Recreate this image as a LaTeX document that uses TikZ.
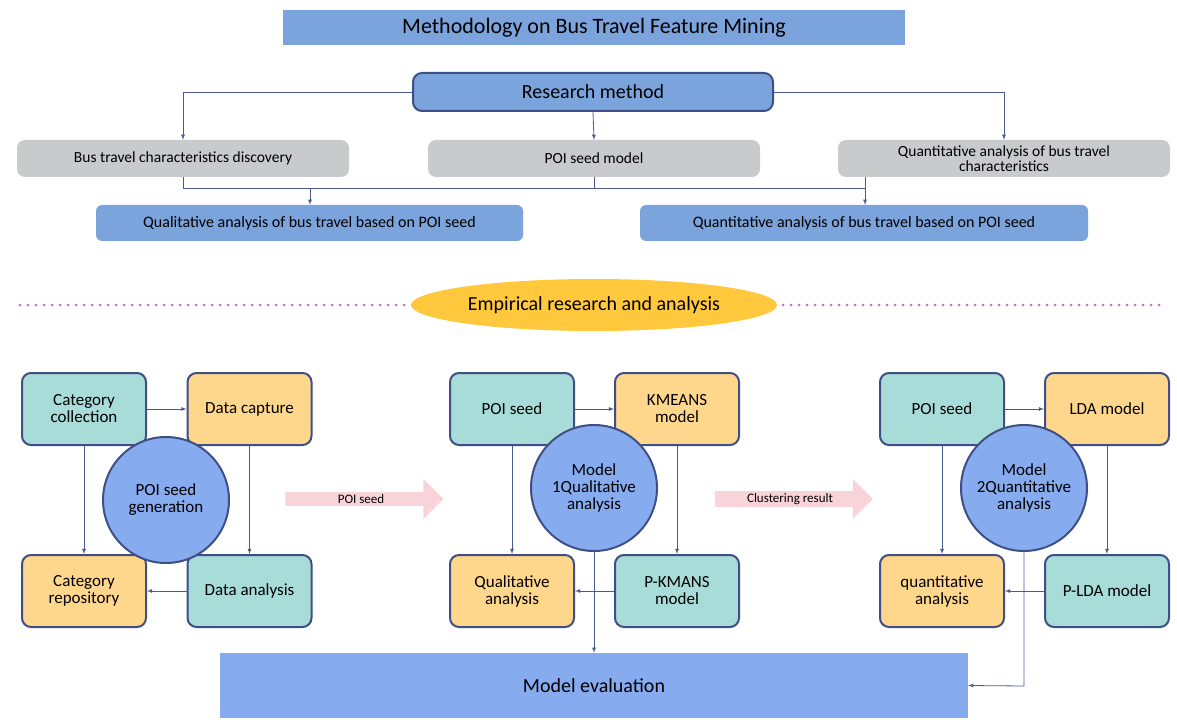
\documentclass[tikz,border=0pt]{standalone}
\usepackage{fontspec}
\setmainfont{Carlito}
\usetikzlibrary{shapes.arrows,shapes.geometric}
\definecolor{tb}{HTML}{7BA3DC}
\definecolor{gr}{HTML}{C9CACC}
\definecolor{bd}{HTML}{3F4F86}
\definecolor{tl}{HTML}{A8DCD9}
\definecolor{og}{HTML}{FFD78C}
\definecolor{cb}{HTML}{86ABEF}
\definecolor{gd}{HTML}{FFC83D}
\definecolor{pk}{HTML}{F9D3DA}
\definecolor{dt}{HTML}{C070C0}
\definecolor{ln}{HTML}{4A5A90}
\begin{document}
\begin{tikzpicture}[x=1pt,y=-1pt,
 fs/.style={font=\fontsize{#1}{#1}\selectfont},
 gbox/.style={fill=gr,rounded corners=8pt,minimum width=332pt,minimum height=37pt,inner sep=2pt,align=center,fs=15.5},
 bbox/.style={fill=tb,rounded corners=6pt,minimum height=36pt,inner sep=2pt,fs=16},
 sq/.style={draw=bd,line width=2pt,rounded corners=9pt,minimum width=124pt,minimum height=72pt,align=center,fs=17,inner sep=2pt},
 circ/.style={circle,draw=bd,line width=2pt,fill=cb,minimum size=126pt,align=center,fs=17,inner sep=0pt},
 ar/.style={draw=ln,-latex,line width=0.8pt},
 pa/.style={single arrow,fill=pk,single arrow head extend=9pt,minimum height=158pt,minimum width=40pt,inner sep=0pt,fs=13}]
\useasboundingbox (0,0) rectangle (1177,727);
\node[fill=tb,minimum width=622pt,minimum height=35pt,fs=22] (title) at (594,27.5) {Methodology on Bus Travel Feature Mining};
\node[fill=tb,draw=bd,line width=2pt,rounded corners=9pt,minimum width=360pt,minimum height=38pt,fs=20] (rm) at (593,92) {Research method};
\node[gbox] (g1) at (183,158.5) {Bus travel characteristics discovery};
\node[gbox] (g2) at (594,158.5) {POI seed model};
\node[gbox] (g3) at (1004,158.5) {Quantitative analysis of bus travel\\characteristics};
\node[bbox,minimum width=427pt] (b1) at (309.5,223) {Qualitative analysis of bus travel based on POI seed};
\node[bbox,minimum width=448pt] (b2) at (864,223) {Quantitative analysis of bus travel based on POI seed};
\draw[ar] (rm.west) -| (g1.north);
\draw[ar] (rm.east) -| (g3.north);
\draw[ar] (rm.south) -- (g2.north);
\coordinate (hl) at (183,188); \coordinate (hr) at (865,188); \coordinate (hm) at (310,188);
\coordinate (hc) at (594,188);
\draw[ln,line width=0.8pt] (g1.south) -- (hl) -- (hr) -- (g3.south -| hr);
\draw[ln,line width=0.8pt] (g2.south) -- (hc);
\draw[ar] (hm) -- (b1.north -| hm);
\draw[ar] (hr) -- (b2.north -| hr);
\draw[dt,line width=3pt,line cap=round,dash pattern=on 0pt off 8pt] (20,305) -- (415,305);
\draw[dt,line width=3pt,line cap=round,dash pattern=on 0pt off 8pt] (775,305) -- (1165,305);
\node[ellipse,fill=gd,minimum width=356pt,minimum height=52pt,fs=20] (emp) at (594,305) {Empirical research and analysis};
% cluster 1
\node[sq,fill=tl] (cc) at (84,409) {Category\\collection};
\node[sq,fill=og] (dc) at (249.5,409) {Data capture};
\node[sq,fill=og] (cr) at (84,591) {Category\\repository};
\node[sq,fill=tl] (da) at (249.5,591) {Data analysis};
\draw[ar] (cc) -- (dc);
\draw[ar] (cc) -- (cr);
\draw[ar] (dc) -- (da);
\draw[ar] (da) -- (cr);
\node[circ] (c1) at (166,500) {POI seed\\generation};
\node[pa] (p1) at (361,499) {POI seed};
% cluster 2
\node[sq,fill=tl] (ps2) at (512,409) {POI seed};
\node[sq,fill=og] (km) at (677,409) {KMEANS\\model};
\node[sq,fill=og] (qa) at (512,591) {Qualitative\\analysis};
\node[sq,fill=tl] (pk) at (677,591) {P-KMANS\\model};
\draw[ar] (ps2) -- (km);
\draw[ar] (ps2) -- (qa);
\draw[ar] (km) -- (pk);
\draw[ar] (pk) -- (qa);
\node[circ] (c2) at (594,488) {Model\\1Qualitative\\analysis};
\node[pa] (p2) at (790,499) {Clustering result};
% cluster 3
\node[sq,fill=tl] (ps3) at (942,409) {POI seed};
\node[sq,fill=og] (lda) at (1107,409) {LDA model};
\node[sq,fill=og] (qn) at (942,591) {quantitative\\analysis};
\node[sq,fill=tl] (pl) at (1107,591) {P-LDA model};
\draw[ar] (ps3) -- (lda);
\draw[ar] (ps3) -- (qn);
\draw[ar] (lda) -- (pl);
\draw[ar] (pl) -- (qn);
\node[circ] (c3) at (1024,488) {Model\\2Quantitative\\analysis};
\node[fill=cb,minimum width=748pt,minimum height=65pt,fs=20] (me) at (594,685.5) {Model evaluation};
\coordinate (mc) at (1024,686);
\draw[ar] (c2.south) -- (me.north -| c2.south);
\draw[ar] (c3.south) -- (mc) -- (me.east);
\end{tikzpicture}
\end{document}
